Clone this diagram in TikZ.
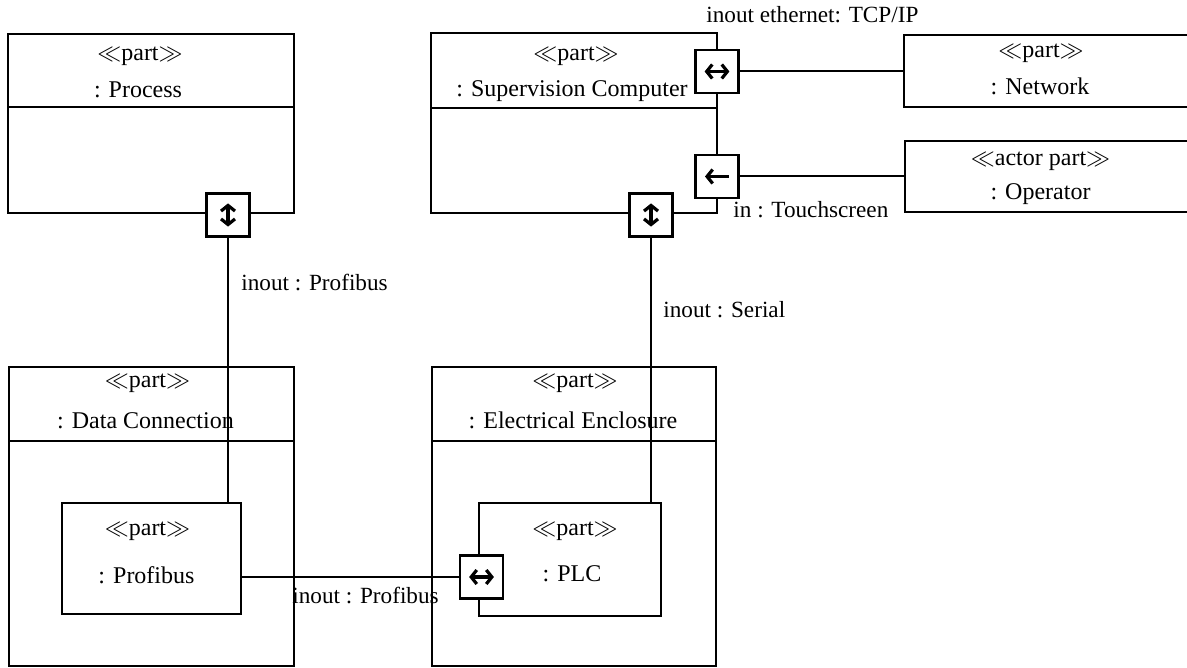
\documentclass[tikz,border=0pt]{standalone}
\usepackage{fontspec}
\setmainfont{Liberation Serif}
\usetikzlibrary{arrows.meta,positioning,calc,fit}
\tikzset{
  partbox/.style={draw, line width=1.3pt, inner sep=0pt, outer sep=0pt},
  divider/.style={line width=1.1pt},
  txt/.style={anchor=base, inner sep=0pt, font=\fontsize{12}{14}\selectfont},
  wirelabel/.style={anchor=base west, inner sep=0pt, font=\fontsize{11.6}{14}\selectfont},
  wire/.style={line width=1pt},
  port/.style={draw, fill=white, line width=1.3pt, minimum size=21.5pt, inner sep=0pt, outer sep=0pt},
  barb/.tip={Straight Barb[length=2.8pt,width=7pt]},
  portud/.style={port, path picture={
      \draw[line width=1.6pt, {barb}-{barb}] ([yshift=5.8pt]path picture bounding box.center)
        -- ([yshift=-5.8pt]path picture bounding box.center);}},
  portlr/.style={port, path picture={
      \draw[line width=1.6pt, {barb}-{barb}] ([xshift=-6.2pt]path picture bounding box.center)
        -- ([xshift=6.2pt]path picture bounding box.center);}},
  portin/.style={port, path picture={
      \draw[line width=1.6pt, {barb}-] ([xshift=-6pt]path picture bounding box.center)
        -- ([xshift=6pt]path picture bounding box.center);}}
}
\begin{document}
\begin{tikzpicture}[x=0.5pt,y=-0.5pt]
  \clip (0,0) rectangle (1187,668);
  \def\partbox#1(#2,#3)(#4,#5){\node[partbox, fit={(#2,#3) (#4,#5)}] (#1) {};}
  \def\header#1#2{\draw[divider] ($(#1.north west)+(0,#2)$) -- ($(#1.north east)+(0,#2)$);}

  % boxes
  \partbox{proc}(8,34)(294,213)
  \partbox{sup}(431,33)(717,213)
  \partbox{net}(904,35)(1192,107)
  \partbox{op}(905,141)(1192,212)
  \partbox{dc}(9,367)(294,666)
  \partbox{ee}(432,367)(716,666)
  \partbox{prof}(62,503)(241,614)
  \partbox{plc}(479,503)(661,616)

  \header{proc}{73}
  \header{sup}{75}
  \header{dc}{74}
  \header{ee}{74}

  % names
  \node[txt] (procS) at ($(proc.north)+(-11,27)$) {$\ll$part$\gg$};
  \node[txt] (procN) at ($(proc.north)+(-13,64)$) {: Process};
  \node[txt] (supS) at ($(sup.north)+(2,28)$) {$\ll$part$\gg$};
  \node[txt] (supN) at ($(sup.north)+(-2,64)$) {: Supervision Computer};
  \node[txt] (netS) at ($(net.north)+(-7,23)$) {$\ll$part$\gg$};
  \node[txt] (netN) at ($(net.north)+(-8,60)$) {: Network};
  \node[txt] (opS) at ($(op.north)+(-8,25)$) {$\ll$actor part$\gg$};
  \node[txt] (opN) at ($(op.north)+(-8,58)$) {: Operator};
  \node[txt] (dcS) at ($(dc.north)+(-4,20)$) {$\ll$part$\gg$};
  \node[txt] (dcN) at ($(dc.north)+(-6,61)$) {: Data Connection};
  \node[txt] (eeS) at ($(ee.north)+(1,20)$) {$\ll$part$\gg$};
  \node[txt] (eeN) at ($(ee.north)+(-1,61)$) {: Electrical Enclosure};
  \node[txt] (profS) at ($(prof.north)+(-4,32)$) {$\ll$part$\gg$};
  \node[txt] (profN) at ($(prof.north)+(-5,80)$) {: Profibus};
  \node[txt] (plcS) at ($(plc.north)+(5,32)$) {$\ll$part$\gg$};
  \node[txt] (plcN) at ($(plc.north)+(2,78)$) {: PLC};

  % ports
  \node[portud] (pProc) at (228,215) {};
  \node[portlr] (pEth) at (717,71.5) {};
  \node[portin] (pTouch) at (717,176.5) {};
  \node[portud] (pSer) at (651,215) {};
  \node[portlr] (pPLC) at (481.5,577) {};

  % connectors
  \draw[wire] (pProc.south) -- (pProc.south |- prof.north);
  \draw[wire] (pPLC.west) -- (pPLC.west -| prof.east);
  \draw[wire] (pSer.south) -- (pSer.south |- plc.north);
  \draw[wire] (pEth.east) -- (pEth.east -| net.west);
  \draw[wire] (pTouch.east) -- (pTouch.east -| op.west);

  \node[wirelabel] (lEth) at (706,23) {inout ethernet: TCP/IP};
  \node[wirelabel] (lTouch) at (733,218) {in : Touchscreen};
  \node[wirelabel] (lProfA) at (241,290) {inout : Profibus};
  \node[wirelabel] (lSer) at (663,317) {inout : Serial};
  \node[wirelabel] (lProfB) at (292,603) {inout : Profibus};
\end{tikzpicture}
\end{document}
